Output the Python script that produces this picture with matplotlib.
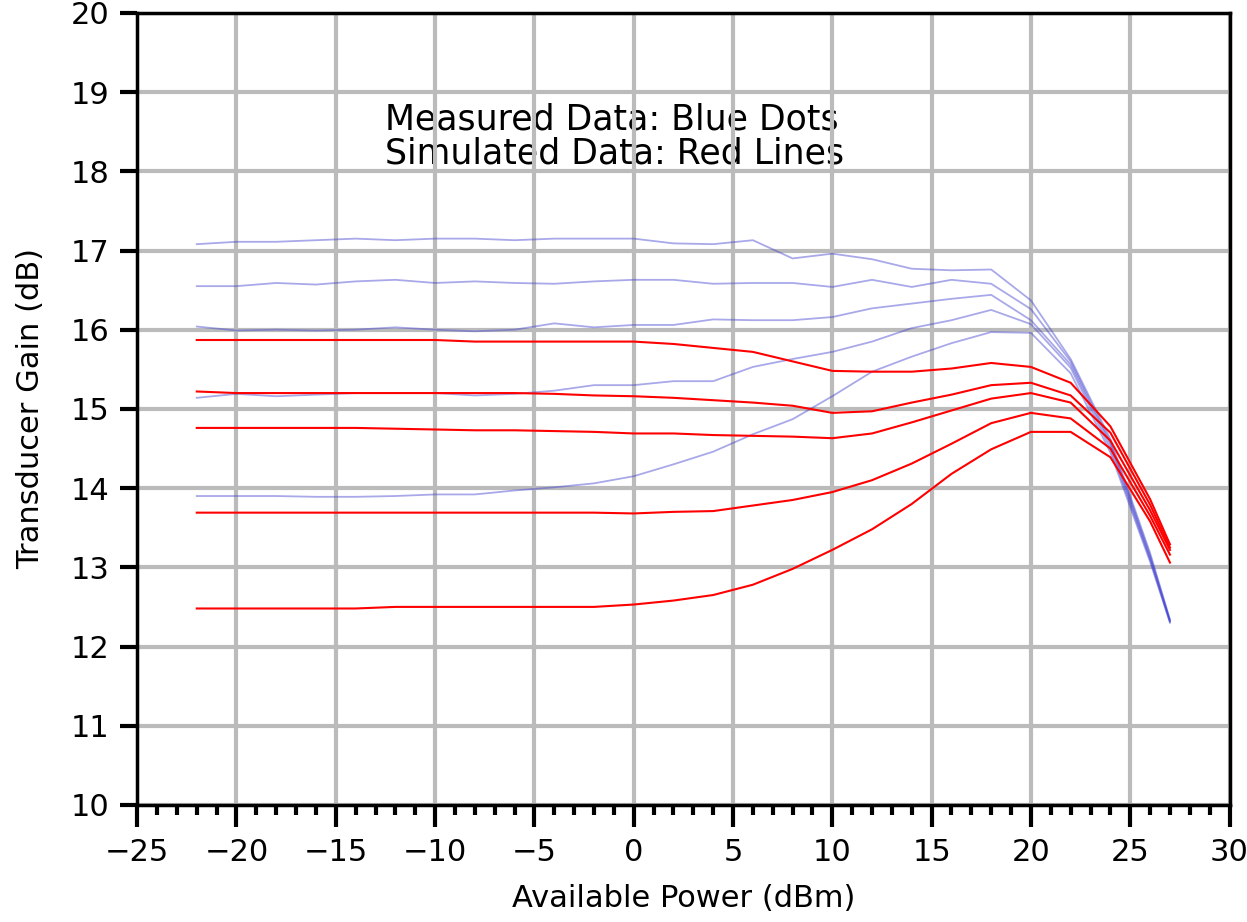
import numpy as np
import matplotlib.pyplot as plt
from matplotlib.ticker import MultipleLocator

# Available power sweep (dBm)
power = [-22, -20, -18, -16, -14, -12, -10, -8, -6, -4, -2, 0, 2, 4, 6, 8,
         10, 12, 14, 16, 18, 20, 22, 24, 26, 27]

# Measured gain (dB), blue
meas_1 = [17.08, 17.11, 17.11, 17.13, 17.15, 17.13, 17.15, 17.15, 17.13, 17.15, 17.15, 17.15,
          17.09, 17.08, 17.13, 16.90, 16.96, 16.89, 16.77, 16.75, 16.76, 16.37, 15.63, 14.62, 13.18, 12.34]
meas_2 = [16.55, 16.55, 16.59, 16.57, 16.61, 16.63, 16.59, 16.61, 16.59, 16.58, 16.61, 16.63,
          16.63, 16.58, 16.59, 16.59, 16.54, 16.63, 16.54, 16.63, 16.58, 16.26, 15.60, 14.58, 13.15, 12.33]
meas_3 = [16.04, 15.99, 16.00, 15.99, 16.00, 16.03, 16.00, 15.98, 16.00, 16.08, 16.03, 16.06,
          16.06, 16.13, 16.12, 16.12, 16.16, 16.27, 16.33, 16.39, 16.44, 16.12, 15.56, 14.55, 13.12, 12.32]
meas_4 = [15.14, 15.19, 15.16, 15.18, 15.20, 15.20, 15.20, 15.17, 15.19, 15.23, 15.30, 15.30,
          15.35, 15.35, 15.53, 15.63, 15.72, 15.85, 16.02, 16.12, 16.25, 16.07, 15.52, 14.50, 13.10, 12.31]
meas_5 = [13.90, 13.90, 13.90, 13.89, 13.89, 13.90, 13.92, 13.92, 13.97, 14.01, 14.06, 14.15,
          14.30, 14.46, 14.68, 14.87, 15.16, 15.47, 15.66, 15.83, 15.97, 15.96, 15.45, 14.45, 13.07, 12.30]

# Simulated gain (dB), red
sim_1 = [15.87, 15.87, 15.87, 15.87, 15.87, 15.87, 15.87, 15.85, 15.85, 15.85, 15.85, 15.85,
         15.82, 15.77, 15.72, 15.60, 15.48, 15.47, 15.47, 15.51, 15.58, 15.53, 15.33, 14.78, 13.86, 13.29]
sim_2 = [15.22, 15.20, 15.20, 15.20, 15.20, 15.20, 15.20, 15.20, 15.20, 15.19, 15.17, 15.16,
         15.14, 15.11, 15.08, 15.04, 14.95, 14.97, 15.08, 15.18, 15.30, 15.33, 15.17, 14.70, 13.79, 13.25]
sim_3 = [14.76, 14.76, 14.76, 14.76, 14.76, 14.75, 14.74, 14.73, 14.73, 14.72, 14.71, 14.69,
         14.69, 14.67, 14.66, 14.65, 14.63, 14.69, 14.83, 14.98, 15.13, 15.20, 15.08, 14.60, 13.72, 13.22]
sim_4 = [13.69, 13.69, 13.69, 13.69, 13.69, 13.69, 13.69, 13.69, 13.69, 13.69, 13.69, 13.68,
         13.70, 13.71, 13.78, 13.85, 13.95, 14.10, 14.31, 14.56, 14.82, 14.95, 14.88, 14.50, 13.65, 13.16]
sim_5 = [12.48, 12.48, 12.48, 12.48, 12.48, 12.50, 12.50, 12.50, 12.50, 12.50, 12.50, 12.53,
         12.58, 12.65, 12.78, 12.98, 13.22, 13.48, 13.80, 14.18, 14.49, 14.71, 14.71, 14.39, 13.58, 13.06]

measured = [meas_1, meas_2, meas_3, meas_4, meas_5]
simulated = [sim_1, sim_2, sim_3, sim_4, sim_5]

x_ticks = [-25, -20, -15, -10, -5, 0, 5, 10, 15, 20, 25, 30]
y_ticks = [10, 11, 12, 13, 14, 15, 16, 17, 18, 19, 20]

plt.rcParams['font.family'] = ['DejaVu Sans']

fig = plt.figure(figsize=(12.47, 9.22), dpi=100)
ax = fig.add_axes([0.110, 0.127, 0.876, 0.859])

for g in measured:
    ax.plot(power, g, color='#4040d0', alpha=0.45, lw=1.3, zorder=3)
for s in simulated:
    ax.plot(power, s, color='red', lw=1.5, zorder=4)

ax.set_xlim(-25, 30)
ax.set_ylim(10, 20)
ax.set_xticks(x_ticks)
ax.set_yticks(y_ticks)
ax.xaxis.set_minor_locator(MultipleLocator(1))
ax.grid(True, which='major', color='#bbbbbb', lw=3, zorder=1)
ax.set_axisbelow(True)

for sp in ax.spines.values():
    sp.set_linewidth(2.5)
ax.tick_params(axis='both', which='major', direction='out', length=12, width=3,
               labelsize=22, pad=8)
ax.tick_params(axis='x', which='minor', direction='out', length=7, width=3)
ax.tick_params(axis='x', which='major', length=16)

ax.set_xlabel('Available Power (dBm)', fontsize=22, labelpad=12)
ax.set_ylabel('Transducer Gain (dB)', fontsize=22, labelpad=18)

# annotation sits under the grid, as in the original
ax.text(-12.5, 18.44, 'Measured Data: Blue Dots\nSimulated Data: Red Lines',
        fontsize=25, ha='left', va='center', linespacing=1.0, zorder=0.3)

fig.savefig('out.png', dpi=100)
